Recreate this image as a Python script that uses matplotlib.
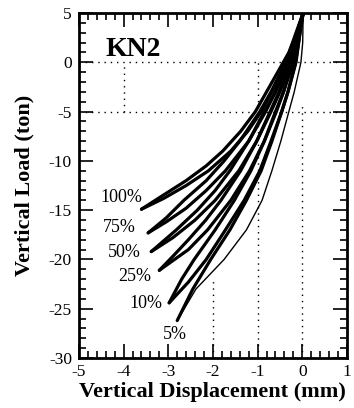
import matplotlib
matplotlib.use("Agg")
import matplotlib.pyplot as plt
from matplotlib.ticker import MultipleLocator, FixedLocator

plt.rcParams['font.family'] = ['Liberation Serif', 'DejaVu Serif']
plt.rcParams['axes.unicode_minus'] = False

# Load levels (percent of reference) and their hysteresis branches
levels = ['100%', '75%', '50%', '25%', '10%', '5%']

# loading (upper / left) branches
up_y = [
    [5, 3, 1, -1, -3, -5, -7, -9, -10.5, -12, -13.5, -14.9],
    [5, 3, 0, -3, -5, -8, -10, -12, -14, -15.8, -17.3],
    [5, 3, 0, -3, -5, -8, -11, -13, -15, -17, -19.2],
    [5, 3, 0, -3, -5, -8, -11, -14, -16, -18, -19.6, -21.1],
    [5, 3, 0, -3, -5, -8, -11, -14, -17, -20, -22, -24.4],
    [5, 3, 0, -3, -5, -8, -11, -14, -17, -20, -23, -26.2],
]
up_x = [
    [0.02, -0.12, -0.3, -0.55, -0.8, -1.05, -1.38, -1.78, -2.15, -2.6, -3.12, -3.6],
    [0.02, -0.14, -0.37, -0.7, -0.95, -1.4, -1.75, -2.15, -2.65, -3.05, -3.45],
    [0.02, -0.12, -0.32, -0.6, -0.85, -1.2, -1.62, -1.95, -2.35, -2.82, -3.38],
    [0.02, -0.1, -0.27, -0.52, -0.72, -1.02, -1.38, -1.82, -2.16, -2.55, -2.88, -3.2],
    [0.02, -0.08, -0.22, -0.42, -0.6, -0.85, -1.15, -1.52, -1.95, -2.42, -2.7, -2.98],
    [0.02, -0.05, -0.15, -0.32, -0.46, -0.68, -0.92, -1.25, -1.62, -2.05, -2.45, -2.8],
]

# unloading (lower / right) branches
lo_y = [
    [5, 3, 0, -3, -5, -7, -9, -11, -12.5, -13.8, -14.9],
    [5, 3, 0, -3, -5, -8, -11, -13, -14.8, -16.2, -17.3],
    [5, 3, 0, -3, -5, -8, -11, -14, -16, -17.8, -19.2],
    [5, 3, 0, -3, -5, -8, -11, -14, -17, -19, -21.1],
    [5, 3, 0, -3, -5, -8, -11, -14, -17, -20, -22.3, -24.4],
    [5, 2, 0, -3, -5, -8, -11, -14, -17, -20, -23, -26.2],
]
lo_x = [
    [0.02, -0.1, -0.33, -0.68, -0.92, -1.22, -1.6, -2.1, -2.6, -3.1, -3.6],
    [0.02, -0.1, -0.3, -0.6, -0.82, -1.2, -1.72, -2.15, -2.6, -3.05, -3.45],
    [0.02, -0.08, -0.25, -0.5, -0.7, -1.02, -1.42, -1.95, -2.4, -2.9, -3.38],
    [0.02, -0.07, -0.2, -0.42, -0.58, -0.85, -1.18, -1.6, -2.12, -2.55, -3.2],
    [0.02, -0.05, -0.14, -0.32, -0.46, -0.7, -0.95, -1.3, -1.72, -2.15, -2.55, -2.98],
    [0.02, 0.01, -0.03, -0.18, -0.3, -0.48, -0.68, -0.9, -1.25, -1.75, -2.38, -2.8],
]

# label anchor points for each level
label_x = [-4.05, -4.1, -3.98, -3.76, -3.5, -2.86]
label_y = [-13.7, -16.8, -19.3, -21.7, -24.5, -27.6]

x_ticks = [-5, -4, -3, -2, -1, 0, 1]
y_ticks = [5, 0, -5, -10, -15, -20, -25, -30]

fig = plt.figure(figsize=(3.54, 4.08), dpi=100)
ax = fig.add_axes([0.223, 0.1225, 0.757, 0.8455])

ax.set_xlim(-5, 1)
ax.set_ylim(-30, 5)

# partial dotted reference lines
dot = dict(color='black', lw=1.0, ls=(0, (1, 3.5)), zorder=1)
ax.axhline(0, **dot)
ax.axhline(-5, **dot)
ax.axvline(-4, ymin=25 / 35, ymax=30 / 35, **dot)
ax.axvline(-2, ymin=0, ymax=8 / 35, **dot)
ax.axvline(-1, ymin=0, ymax=30 / 35, **dot)
ax.axvline(0, ymin=0, ymax=26 / 35, **dot)

for i, lab in enumerate(levels):
    lw_lo = 1.0 if lab == '5%' else 2.3
    ax.plot(up_x[i], up_y[i], color='black', lw=2.3, solid_capstyle='round',
            solid_joinstyle='round', zorder=3)
    ax.plot(lo_x[i], lo_y[i], color='black', lw=lw_lo, solid_capstyle='round',
            solid_joinstyle='round', zorder=3)
    ax.text(label_x[i], label_y[i], lab, fontsize=13, ha='center', va='center')

ax.text(-4.4, 1.3, 'KN2', fontsize=20, fontweight='bold', ha='left', va='center')

ax.xaxis.set_major_locator(FixedLocator(x_ticks))
ax.yaxis.set_major_locator(FixedLocator(y_ticks))
ax.xaxis.set_minor_locator(MultipleLocator(0.2))
ax.yaxis.set_minor_locator(MultipleLocator(1))
ax.set_xticklabels([str(v) for v in x_ticks])
ax.set_yticklabels([str(v) for v in y_ticks])
ax.tick_params(which='both', direction='in', top=True, right=True, width=1.2,
               labelsize=12.5)
ax.tick_params(axis='x', pad=4)
ax.tick_params(axis='y', pad=5)
ax.tick_params(which='major', length=10)
ax.tick_params(which='minor', length=5)
for s in ax.spines.values():
    s.set_linewidth(2.0)

ax.set_xlabel('Vertical Displacement (mm)', fontsize=16, fontweight='bold', labelpad=2)
ax.set_ylabel('Vertical Load (ton)', fontsize=16, fontweight='bold', labelpad=10)

fig.savefig('out.png', dpi=100)
